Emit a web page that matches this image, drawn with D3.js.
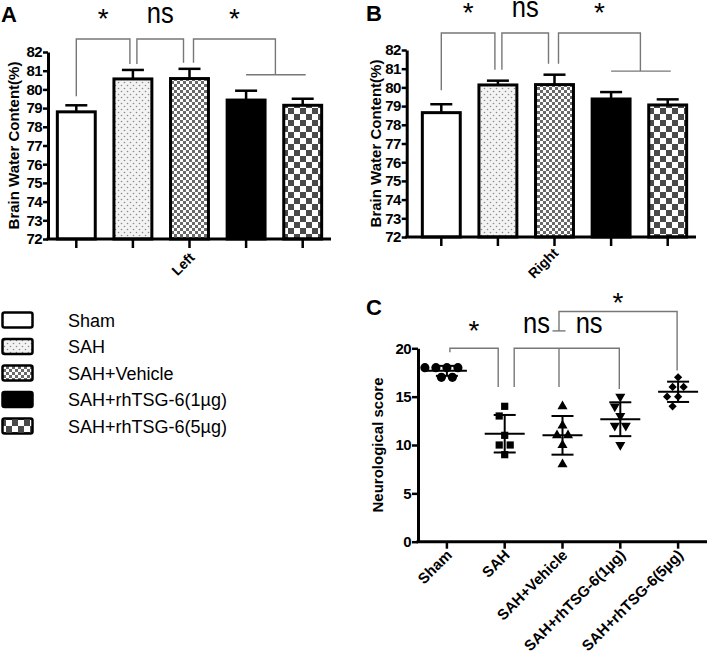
<!DOCTYPE html>
<html><head><meta charset="utf-8">
<script src="https://cdn.jsdelivr.net/npm/d3@7"></script>
<style>
body{margin:0;background:#fff}
svg{display:block}
text{font-family:"Liberation Sans",Arial,Helvetica,sans-serif}
</style>
</head><body>
<svg id="chart" width="709" height="653"></svg>
<script>
// ---------- data ----------
const categories = ["Sham", "SAH", "SAH+Vehicle", "SAH+rhTSG-6(1µg)", "SAH+rhTSG-6(5µg)"];
const leftMeans   = [78.80, 80.56, 80.58, 79.43, 79.15];
const leftErrors  = [0.35, 0.48, 0.52, 0.50, 0.35];
const rightMeans  = [78.65, 80.13, 80.15, 79.38, 79.06];
const rightErrors = [0.45, 0.23, 0.53, 0.37, 0.30];
const waterTicks  = [72, 73, 74, 75, 76, 77, 78, 79, 80, 81, 82];
const scoreSham    = [18, 18, 18, 18, 17, 17];
const scoreSAH     = [14, 13, 11, 10, 10, 9];
const scoreVehicle = [14, 12, 11, 11, 10, 8];
const score1ug     = [15, 14, 13, 12, 12, 10];
const score5ug     = [17, 16, 16, 15, 15, 14];
const scoreTicks   = [0, 5, 10, 15, 20];
const barSigLabels = ["*", "ns", "*"];
const scoreSigLabels = ["*", "ns", "ns", "*"];

const scores = [scoreSham, scoreSAH, scoreVehicle, score1ug, score5ug];
const fills = ["#fff", "url(#dots)", "url(#fineCheck)", "#000", "url(#bigCheck)"];

const svg = d3.select("#chart");
const defs = svg.append("defs");

// patterns
const pDots = defs.append("pattern").attr("id", "dots").attr("patternUnits", "userSpaceOnUse")
  .attr("width", 6).attr("height", 6);
pDots.append("rect").attr("width", 6).attr("height", 6).attr("fill", "#f3f3f3");
pDots.append("circle").attr("cx", 1.5).attr("cy", 1.5).attr("r", 0.8).attr("fill", "#8a8a8a");
pDots.append("circle").attr("cx", 4.5).attr("cy", 4.5).attr("r", 0.8).attr("fill", "#8a8a8a");

const pFine = defs.append("pattern").attr("id", "fineCheck").attr("patternUnits", "userSpaceOnUse")
  .attr("width", 6).attr("height", 6);
pFine.append("rect").attr("width", 6).attr("height", 6).attr("fill", "#fff");
pFine.append("rect").attr("width", 3).attr("height", 3).attr("fill", "#6a6a6a");
pFine.append("rect").attr("x", 3).attr("y", 3).attr("width", 3).attr("height", 3).attr("fill", "#6a6a6a");

const pBig = defs.append("pattern").attr("id", "bigCheck").attr("patternUnits", "userSpaceOnUse")
  .attr("width", 12).attr("height", 12);
pBig.append("rect").attr("width", 12).attr("height", 12).attr("fill", "#fff");
pBig.append("rect").attr("width", 6).attr("height", 6).attr("fill", "#4a4a4a");
pBig.append("rect").attr("x", 6).attr("y", 6).attr("width", 6).attr("height", 6).attr("fill", "#4a4a4a");

function sigText(g, label, x, yBase) {
  if (label === "ns") {
    g.append("text").attr("x", x).attr("y", yBase).attr("text-anchor", "middle")
      .attr("font-size", 29).attr("textLength", 27).attr("lengthAdjust", "spacingAndGlyphs")
      .text("ns");
  } else {
    g.append("text").attr("x", x).attr("y", yBase + 5).attr("text-anchor", "middle")
      .attr("font-size", 28).text(label);
  }
}

// ---------- bar panels ----------
function barPanel(cfg) {
  const g = svg.append("g");
  const y = d3.scaleLinear().domain([72, 82]).range([cfg.yBottom, cfg.yTop]);
  const x = d3.scaleBand().domain(categories).range([cfg.bandStart, cfg.xEnd])
    .paddingInner(0.33).paddingOuter(0.165);
  const cx = i => x(categories[i]) + x.bandwidth() / 2;
  const data = categories.map((c, i) => ({ c, i, m: cfg.means[i], e: cfg.errors[i] }));

  // bars
  g.selectAll("rect.bar").data(data).join("rect").attr("class", "bar")
    .attr("x", d => x(d.c)).attr("width", x.bandwidth())
    .attr("y", d => y(d.m)).attr("height", d => y(72) - y(d.m))
    .attr("fill", d => fills[d.i]).attr("stroke", "#000").attr("stroke-width", 3);
  // error bars
  g.selectAll("line.err").data(data).join("line").attr("class", "err")
    .attr("x1", d => cx(d.i)).attr("x2", d => cx(d.i))
    .attr("y1", d => y(d.m)).attr("y2", d => y(d.m + d.e))
    .attr("stroke", "#000").attr("stroke-width", 2.5);
  g.selectAll("line.cap").data(data).join("line").attr("class", "cap")
    .attr("x1", d => cx(d.i) - 11).attr("x2", d => cx(d.i) + 11)
    .attr("y1", d => y(d.m + d.e)).attr("y2", d => y(d.m + d.e))
    .attr("stroke", "#000").attr("stroke-width", 2.5);

  // axes
  const ya = g.append("g").attr("transform", `translate(${cfg.xStart},0)`)
    .call(d3.axisLeft(y).tickValues(waterTicks).tickSize(5).tickPadding(1).tickSizeOuter(0));
  ya.select(".domain").attr("stroke-width", 3);
  ya.selectAll(".tick line").attr("stroke-width", 2.5);
  ya.selectAll(".tick text").attr("font-size", 15).attr("font-weight", "bold")
    .attr("letter-spacing", -0.6).attr("fill", "#000");

  g.append("line").attr("x1", cfg.xStart - 1.5).attr("x2", cfg.xEnd)
    .attr("y1", cfg.yBottom).attr("y2", cfg.yBottom).attr("stroke", "#000").attr("stroke-width", 3);
  const xa = g.append("g").attr("transform", `translate(0,${cfg.yBottom})`)
    .call(d3.axisBottom(x).tickSize(9).tickFormat(() => ""));
  xa.select(".domain").remove();
  xa.selectAll(".tick line").attr("stroke-width", 2.5);

  // labels
  g.append("text").attr("x", cfg.letterX).attr("y", cfg.letterY).attr("font-size", 22)
    .attr("font-weight", "bold").text(cfg.letter);
  g.append("text").attr("transform", `translate(${cfg.yLabelX},${(cfg.yTop + cfg.yBottom) / 2}) rotate(-90)`)
    .attr("text-anchor", "middle").attr("font-size", 15).attr("font-weight", "bold")
    .text("Brain Water Content(%)");
  g.append("text").attr("transform", `translate(${cfg.xLabelX},${cfg.xLabelY}) rotate(-45)`)
    .attr("text-anchor", "middle").attr("dominant-baseline", "central")
    .attr("font-size", 14).attr("font-weight", "bold").text(cfg.xLabel);

  // significance brackets
  const top = y(82) - cfg.rise;
  const errTop = i => y(cfg.means[i] + cfg.errors[i]);
  const gap = cfg.gap;
  const br = g.append("g").attr("fill", "none").attr("stroke", "#777").attr("stroke-width", 1.4);
  const b1 = [cx(0), cx(1) - 3];
  br.append("path").attr("d", `M${b1[0]},${errTop(0) - gap - 3}V${top}H${b1[1]}V${errTop(1) - gap}`);
  const b2 = [cx(1) + 4, cx(2) - 6];
  br.append("path").attr("d", `M${b2[0]},${errTop(1) - gap}V${top}H${b2[1]}V${errTop(2) - gap}`);
  const hY = errTop(3) - gap - 10;
  const b3 = [cx(2) + 4, (cx(3) + cx(4)) / 2 + 1];
  br.append("path").attr("d", `M${b3[0]},${errTop(2) - gap}V${top}H${b3[1]}V${hY}`);
  br.append("path").attr("d", `M${cx(3)},${hY}H${cx(4) + 3}`);

  const lg = g.append("g").attr("fill", "#000");
  [b1, b2, b3].forEach((b, k) => {
    sigText(lg, barSigLabels[k], (b[0] + b[1]) / 2, top - 16);
  });
}

barPanel({
  means: leftMeans, errors: leftErrors, yTop: 52, yBottom: 239,
  xStart: 48, bandStart: 48, xEnd: 331, letter: "A", letterX: 1, letterY: 22,
  yLabelX: 19, xLabel: "Left", xLabelX: 183, xLabelY: 264, gap: 6, rise: 13
});
barPanel({
  means: rightMeans, errors: rightErrors, yTop: 50, yBottom: 237,
  xStart: 406.7, bandStart: 413, xEnd: 696, letter: "B", letterX: 366, letterY: 21,
  yLabelX: 381, xLabel: "Right", xLabelX: 543, xLabelY: 263, gap: 11, rise: 17
});

// ---------- legend ----------
const legY = d3.scalePoint().domain(categories).range([320, 426]);
const leg = svg.append("g");
categories.forEach((c, i) => {
  leg.append("rect").attr("x", 2.5).attr("y", legY(c) - 7.5).attr("width", 30).attr("height", 15)
    .attr("rx", 2).attr("fill", fills[i]).attr("stroke", "#000").attr("stroke-width", 2.5);
  leg.append("text").attr("x", 68).attr("y", legY(c) + 6.5).attr("font-size", 18).text(c);
});

// ---------- panel C ----------
const gC = svg.append("g");
const yC = d3.scaleLinear().domain([0, 20]).range([541.7, 348.3]);
const xC = d3.scaleBand().domain(categories).range([418, 707]);
const cxC = i => xC(categories[i]) + xC.bandwidth() / 2;

function swarm(values, d) {
  const placed = [];
  const order = values.map((v, i) => ({ v, i })).sort((a, b) => b.v - a.v);
  const out = [];
  order.forEach(p => {
    const py = yC(p.v);
    let chosen = 0;
    for (let k = 0; k < 400; k++) {
      const cand = k === 0 ? 0 : (k % 2 === 1 ? -1 : 1) * Math.ceil(k / 2) * 0.5;
      if (placed.every(q => Math.hypot(q.x - cand, q.y - py) >= d - 1e-6)) { chosen = cand; break; }
    }
    placed.push({ x: chosen, y: py });
    out.push({ v: p.v, dx: chosen });
  });
  return out;
}

const symbols = [
  { type: d3.symbolCircle, size: 66, rot: 0 },
  { type: d3.symbolSquare, size: 52, rot: 0 },
  { type: d3.symbolTriangle, size: 44, rot: 0 },
  { type: d3.symbolTriangle, size: 44, rot: 180 },
  { type: d3.symbolSquare, size: 34, rot: 45 }
];

scores.forEach((vals, i) => {
  const pts = swarm(vals, 11);
  const sym = d3.symbol().type(symbols[i].type).size(symbols[i].size);
  gC.selectAll(null).data(pts).join("path")
    .attr("transform", d => `translate(${cxC(i) + d.dx},${yC(d.v)}) rotate(${symbols[i].rot})`)
    .attr("d", sym).attr("fill", "#000");
  const m = d3.mean(vals), sd = d3.deviation(vals);
  const eg = gC.append("g").attr("stroke", "#000").attr("stroke-width", 2);
  eg.append("line").attr("x1", cxC(i) - 20).attr("x2", cxC(i) + 20).attr("y1", yC(m)).attr("y2", yC(m));
  eg.append("line").attr("x1", cxC(i)).attr("x2", cxC(i)).attr("y1", yC(m - sd)).attr("y2", yC(m + sd));
  eg.append("line").attr("x1", cxC(i) - 11).attr("x2", cxC(i) + 11).attr("y1", yC(m + sd)).attr("y2", yC(m + sd));
  eg.append("line").attr("x1", cxC(i) - 11).attr("x2", cxC(i) + 11).attr("y1", yC(m - sd)).attr("y2", yC(m - sd));
});

const yaC = gC.append("g").attr("transform", "translate(418,0)")
  .call(d3.axisLeft(yC).tickValues(scoreTicks).tickSize(6).tickPadding(1).tickSizeOuter(0));
yaC.select(".domain").attr("stroke-width", 3);
yaC.selectAll(".tick line").attr("stroke-width", 2.5);
yaC.selectAll(".tick text").attr("font-size", 15).attr("font-weight", "bold")
  .attr("letter-spacing", -0.6).attr("fill", "#000");
gC.append("line").attr("x1", 416.5).attr("x2", 707).attr("y1", 541.7).attr("y2", 541.7)
  .attr("stroke", "#000").attr("stroke-width", 3);
const xaC = gC.append("g").attr("transform", "translate(0,541.7)")
  .call(d3.axisBottom(xC).tickSize(7).tickFormat(() => ""));
xaC.select(".domain").remove();
xaC.selectAll(".tick line").attr("stroke-width", 2.5);

categories.forEach((c, i) => {
  gC.append("text").attr("transform", `translate(${cxC(i) + 6},${556}) rotate(-45)`)
    .attr("text-anchor", "end").attr("font-size", 15).attr("font-weight", "bold").text(c);
});

gC.append("text").attr("x", 366).attr("y", 315).attr("font-size", 22).attr("font-weight", "bold").text("C");
gC.append("text").attr("transform", "translate(383,445) rotate(-90)").attr("text-anchor", "middle")
  .attr("font-size", 15).attr("font-weight", "bold").text("Neurological score");

// brackets for C
const brC = gC.append("g").attr("fill", "none").attr("stroke", "#777").attr("stroke-width", 1.4);
const topC = yC(20);
const legBottom = yC(16);
const c1 = [cxC(0) + 3, cxC(1) - 6.5];
brC.append("path").attr("d", `M${c1[0]},${topC + 4}V${topC}H${c1[1]}V${legBottom}`);
const mid = cxC(2) - 3.5;
const c2 = [cxC(1) + 9.5, cxC(3) - 1];
brC.append("path").attr("d", `M${c2[0]},${legBottom}V${topC}H${c2[1]}V${legBottom + 2}`);
brC.append("path").attr("d", `M${mid},${topC}V${legBottom}`);
const top3 = yC(23.8);
const c3 = [mid, cxC(4) - 1];
brC.append("path").attr("d", `M${c3[0]},${yC(21.8)}V${top3}H${c3[1]}V${yC(17.7)}`);
brC.append("path").attr("d", `M${mid - 6.5},${yC(21.8)}H${mid + 6.5}`);

const lgC = gC.append("g").attr("fill", "#000");
sigText(lgC, scoreSigLabels[0], (c1[0] + c1[1]) / 2, 335);
sigText(lgC, scoreSigLabels[1], (c2[0] + mid) / 2, 333);
sigText(lgC, scoreSigLabels[2], (mid + c2[1]) / 2, 333);
sigText(lgC, scoreSigLabels[3], (c3[0] + c3[1]) / 2, 307);
</script>
</body></html>
